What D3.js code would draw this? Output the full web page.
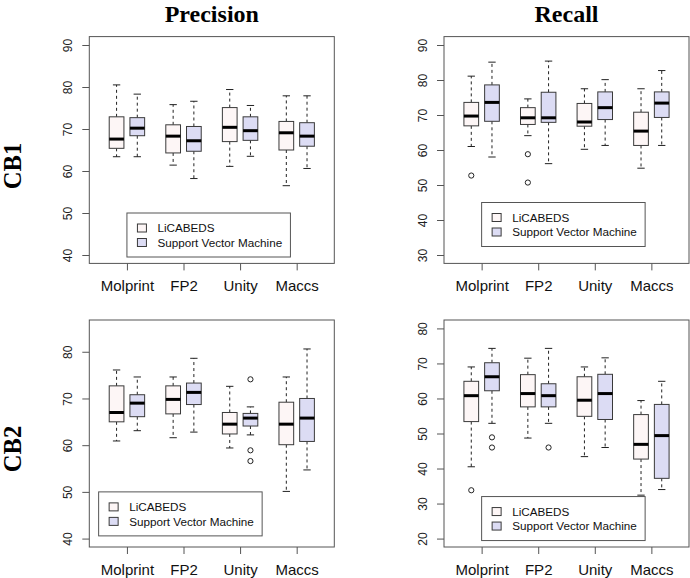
<!DOCTYPE html>
<html>
<head>
<meta charset="utf-8">
<script src="https://cdn.jsdelivr.net/npm/d3@7"></script>
<style>
  html, body { margin: 0; padding: 0; background: #fff; }
  svg { display: block; }
</style>
</head>
<body>
<script>
// ---------------- DATA ----------------
const categories = ["Molprint", "FP2", "Unity", "Maccs"];
const seriesNames = ["LiCABEDS", "Support Vector Machine"];
const colTitles = ["Precision", "Recall"];
const rowTitles = ["CB1", "CB2"];

// five-number summaries per category: [lower whisker, Q1, median, Q3, upper whisker]
const precCB1_lic = [[63.4,65.4,67.6,72.9,80.5],[61.4,64.3,68.3,71.0,75.8],[61.1,67.0,70.4,75.1,79.4],[56.5,65.0,69.1,71.8,77.9]];
const precCB1_svm = [[63.4,68.4,70.2,72.7,78.3],[58.2,64.7,67.2,70.6,76.6],[63.5,67.3,69.6,72.9,75.6],[60.6,65.9,68.3,71.5,77.9]];
const precCB1_lic_out = [[],[],[],[]];
const precCB1_svm_out = [[],[],[],[]];

const recCB1_lic = [[61.0,66.9,69.7,73.6,81.1],[64.1,67.3,69.2,72.1,74.6],[60.2,66.8,68.0,73.3,77.5],[54.8,61.3,65.4,70.8,77.5]];
const recCB1_svm = [[58.0,68.2,73.6,78.6,85.1],[56.1,67.9,69.2,76.5,85.4],[61.3,68.7,72.1,76.6,80.1],[61.3,69.3,73.4,76.6,82.7]];
const recCB1_lic_out = [[52.7],[58.8,50.7],[],[]];
const recCB1_svm_out = [[],[],[],[]];

const precCB2_lic = [[60.9,65.0,67.0,72.7,76.1],[61.6,66.7,69.8,72.7,74.6],[59.4,62.4,64.5,67.0,72.6],[50.1,60.1,64.5,69.2,74.6]];
const precCB2_svm = [[63.1,66.1,69.0,70.8,74.6],[62.8,68.7,71.3,73.3,78.6],[62.2,64.1,65.8,66.8,68.2],[54.7,60.8,65.8,70.0,80.6]];
const precCB2_lic_out = [[],[],[],[]];
const precCB2_svm_out = [[],[],[74.1,58.9,56.6],[]];

const recCB2_lic = [[40.5,53.4,60.8,64.9,69.0],[48.7,57.6,61.4,66.8,71.5],[43.4,54.9,59.5,66.2,69.0],[32.4,42.7,46.9,55.4,59.4]];
const recCB2_svm = [[52.9,62.2,66.2,70.2,74.3],[52.9,57.6,60.8,64.2,74.3],[46.0,54.0,61.4,66.9,71.6],[34.0,37.2,49.4,58.3,64.9]];
const recCB2_lic_out = [[33.8],[],[],[]];
const recCB2_svm_out = [[48.9,46.0],[46.0],[],[]];

// y-axis tick labels and limits per panel
const precCB1_ticks = [40,50,60,70,80,90];
const recCB1_ticks  = [30,40,50,60,70,80,90];
const precCB2_ticks = [40,50,60,70,80];
const recCB2_ticks  = [20,30,40,50,60,70,80];
const precCB1_ylim = [40, 90];
const recCB1_ylim  = [30, 90];
const precCB2_ylim = [40, 85];
const recCB2_ylim  = [20, 80];
// legend anchor (x in category units, y in data units)
const precCB1_leg = [1, 50];
const recCB1_leg  = [1, 45];
const precCB2_leg = [0.5, 50];
const recCB2_leg  = [1, 32];

// ---------------- DRAW ----------------
const W = 690, H = 578;
const svg = d3.select("body").append("svg").attr("width", W).attr("height", H);

const fills = ["#fdf6f6", "#dcdcf4"];
const boxStroke = "#3a3a3a";
const frameStroke = "#555";
const sans = "'Liberation Sans', Arial, sans-serif";
const serif = "'Liberation Serif', 'Times New Roman', serif";

const panels = [
  {col:0,row:0, left:89.3, right:334.3, top:36.6, bottom:263.4, lic:precCB1_lic, svm:precCB1_svm, licOut:precCB1_lic_out, svmOut:precCB1_svm_out, ticks:precCB1_ticks, ylim:precCB1_ylim, leg:precCB1_leg},
  {col:1,row:0, left:444, right:689, top:36.6, bottom:263.4, lic:recCB1_lic, svm:recCB1_svm, licOut:recCB1_lic_out, svmOut:recCB1_svm_out, ticks:recCB1_ticks, ylim:recCB1_ylim, leg:recCB1_leg},
  {col:0,row:1, left:89.3, right:334.3, top:320, bottom:547, lic:precCB2_lic, svm:precCB2_svm, licOut:precCB2_lic_out, svmOut:precCB2_svm_out, ticks:precCB2_ticks, ylim:precCB2_ylim, leg:precCB2_leg},
  {col:1,row:1, left:444, right:689, top:320, bottom:547, lic:recCB2_lic, svm:recCB2_svm, licOut:recCB2_lic_out, svmOut:recCB2_svm_out, ticks:recCB2_ticks, ylim:recCB2_ylim, leg:recCB2_leg}
];

panels.forEach(p => {
  const g = svg.append("g");
  const ext = (p.ylim[1] - p.ylim[0]) * 0.04;
  const y = d3.scaleLinear().domain([p.ylim[0] - ext, p.ylim[1] + ext]).range([p.bottom, p.top]);
  const x = d3.scaleLinear().domain([0.335, 4.665]).range([p.left, p.right]);
  const off = 0.183, hw = 0.13;

  // y axis
  const yAxis = d3.axisLeft(y).tickValues(p.ticks).tickSize(7).tickSizeOuter(0).tickFormat(d3.format("d"));
  const ya = g.append("g").attr("transform", `translate(${p.left},0)`).call(yAxis);
  ya.select(".domain").attr("stroke", "none");
  ya.selectAll(".tick line").attr("stroke", frameStroke);
  ya.selectAll(".tick text")
    .attr("font-family", sans).attr("font-size", 12).attr("fill", "#222")
    .attr("transform", `translate(-17,0) rotate(-90)`)
    .attr("x", 0).attr("y", 0).attr("dy", 0)
    .attr("text-anchor", "middle");

  // x axis
  const xAxis = d3.axisBottom(x).tickValues([1,2,3,4]).tickSize(7).tickSizeOuter(0)
    .tickFormat(d => categories[d-1]);
  const xa = g.append("g").attr("transform", `translate(0,${p.bottom})`).call(xAxis);
  xa.select(".domain").attr("stroke", "none");
  xa.selectAll(".tick line").attr("stroke", frameStroke);
  xa.selectAll(".tick text").attr("font-family", sans).attr("font-size", 15).attr("fill", "#111")
    .attr("y", 27.6).attr("dy", 0);

  // boxes
  [p.lic, p.svm].forEach((series, s) => {
    const outs = s === 0 ? p.licOut : p.svmOut;
    series.forEach((st, i) => {
      const cx = (i + 1) + (s === 0 ? -off : off);
      const x0 = x(cx - hw), x1 = x(cx + hw), xc = x(cx);
      const capHalf = (x1 - x0) / 4;
      const [lo, q1, med, q3, hi] = st;
      g.append("line").attr("x1", xc).attr("x2", xc).attr("y1", y(q3)).attr("y2", y(hi))
        .attr("stroke", "#222").attr("stroke-dasharray", "3,3");
      g.append("line").attr("x1", xc).attr("x2", xc).attr("y1", y(q1)).attr("y2", y(lo))
        .attr("stroke", "#222").attr("stroke-dasharray", "3,3");
      g.append("line").attr("x1", xc - capHalf).attr("x2", xc + capHalf).attr("y1", y(hi)).attr("y2", y(hi)).attr("stroke", "#222");
      g.append("line").attr("x1", xc - capHalf).attr("x2", xc + capHalf).attr("y1", y(lo)).attr("y2", y(lo)).attr("stroke", "#222");
      g.append("rect").attr("x", x0).attr("y", y(q3)).attr("width", x1 - x0).attr("height", y(q1) - y(q3))
        .attr("fill", fills[s]).attr("stroke", boxStroke).attr("stroke-width", 1);
      g.append("line").attr("x1", x0).attr("x2", x1).attr("y1", y(med)).attr("y2", y(med))
        .attr("stroke", "#000").attr("stroke-width", 3);
      outs[i].forEach(v => {
        g.append("circle").attr("cx", xc).attr("cy", y(v)).attr("r", 2.6)
          .attr("fill", "none").attr("stroke", "#222");
      });
    });
  });

  // frame
  g.append("rect").attr("x", p.left).attr("y", p.top).attr("width", p.right - p.left).attr("height", p.bottom - p.top)
    .attr("fill", "none").attr("stroke", frameStroke).attr("stroke-width", 1);

  // legend
  const lx = x(p.leg[0]), ly = y(p.leg[1]);
  const lg = g.append("g").attr("transform", `translate(${lx},${ly})`);
  lg.append("rect").attr("x", 0).attr("y", 0).attr("width", 163.5).attr("height", 44)
    .attr("fill", "#fff").attr("stroke", frameStroke);
  seriesNames.forEach((name, k) => {
    const cy = 15 + k * 14.5;
    lg.append("rect").attr("x", 10.5).attr("y", cy - 4).attr("width", 9).attr("height", 8)
      .attr("fill", fills[k]).attr("stroke", boxStroke);
    lg.append("text").attr("x", 30.5).attr("y", cy + 4.2).text(name)
      .attr("font-family", sans).attr("font-size", 11.7).attr("fill", "#111");
  });
});

// column titles
colTitles.forEach((t, c) => {
  const p = panels[c];
  svg.append("text").attr("x", (p.left + p.right) / 2).attr("y", 22).attr("text-anchor", "middle")
    .attr("font-family", serif).attr("font-weight", "bold").attr("font-size", 24).attr("fill", "#000").text(t);
});
// row titles
rowTitles.forEach((t, r) => {
  const cy = r === 0 ? 166 : 449;
  svg.append("text").attr("transform", `translate(21,${cy}) rotate(-90)`).attr("text-anchor", "middle")
    .attr("font-family", serif).attr("font-weight", "bold").attr("font-size", 24.6).attr("fill", "#000").text(t);
});
</script>
</body>
</html>
